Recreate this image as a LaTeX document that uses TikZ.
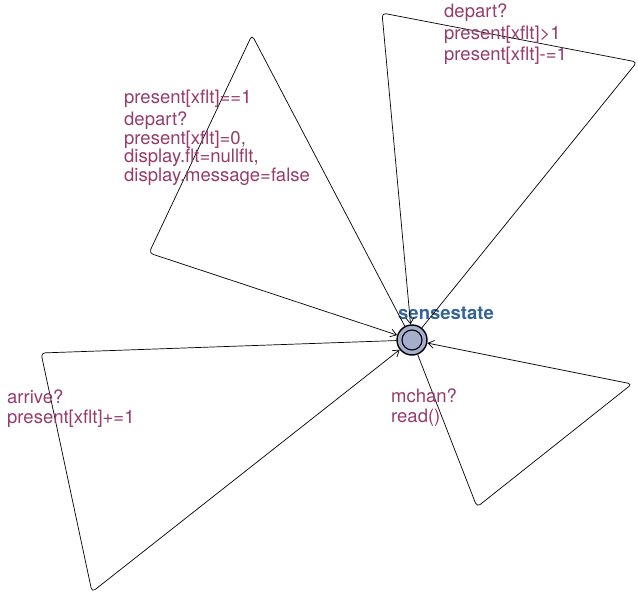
\documentclass[tikz,border=0pt]{standalone}
\usepackage{fontspec}
\setmainfont{TeX Gyre Heros}
\usetikzlibrary{arrows.meta}
\definecolor{lbl}{RGB}{150,60,108}
\definecolor{locname}{RGB}{55,100,150}
\definecolor{locfill}{RGB}{166,174,206}
\tikzset{
  lbltext/.style={anchor=base west, inner sep=0pt, text=lbl, font=\fontsize{18.5}{19}\selectfont},
  edge/.style={draw=black, line width=0.7pt, rounded corners=4pt, -{Straight Barb[length=6pt,width=8pt,line width=0.7pt]}},
  loc/.style={circle, draw=black, line width=1.4pt, fill=locfill, minimum size=30pt, inner sep=0pt},
}
\begin{document}
\begin{tikzpicture}[x=1pt,y=-1pt]
\useasboundingbox (0,0) rectangle (638,597);
\node[loc] (s) at (412,340) {};
\node[circle, draw=black, line width=1.1pt, minimum size=20pt, inner sep=0pt] (sin) at (412,340) {};
\node[anchor=base west, inner sep=0pt, text=locname, font=\fontsize{18.5}{19}\selectfont\bfseries] (sname) at (398,319) {sensestate};
% loop 1
\coordinate (a1) at (252,35);
\coordinate (a2) at (149,253);
\draw[edge] (s) -- (a1) -- (a2) -- (s);
% loop 2
\coordinate (b1) at (637,62);
\coordinate (b2) at (382,13);
\draw[edge] (s) -- (b1) -- (b2) -- (s);
% loop 3
\coordinate (c1) at (41,353);
\coordinate (c2) at (92,592);
\draw[edge] (s) -- (c1) -- (c2) -- (s);
% loop 4
\coordinate (d1) at (477,507);
\coordinate (d2) at (632,384);
\draw[edge] (s) -- (d1) -- (d2) -- (s);
% labels
\node[lbltext] (g1) at (124,103) {present[xflt]==1};
\node[lbltext] (y1) at (124,125) {depart?};
\node[lbltext] (u1a) at (124,144) {present[xflt]=0,};
\node[lbltext] (u1b) at (124,162.5) {display.flt=nullflt,};
\node[lbltext] (u1c) at (124,181) {display.message=false};
\node[lbltext] (y2) at (444,17) {depart?};
\node[lbltext] (g2) at (444,39) {present[xflt]>1};
\node[lbltext] (u2) at (444,60) {present[xflt]-=1};
\node[lbltext] (y3) at (7,403) {arrive?};
\node[lbltext] (u3) at (7,423) {present[xflt]+=1};
\node[lbltext] (y4) at (391,402) {mchan?};
\node[lbltext] (u4) at (391,422) {read()};
\end{tikzpicture}
\end{document}
